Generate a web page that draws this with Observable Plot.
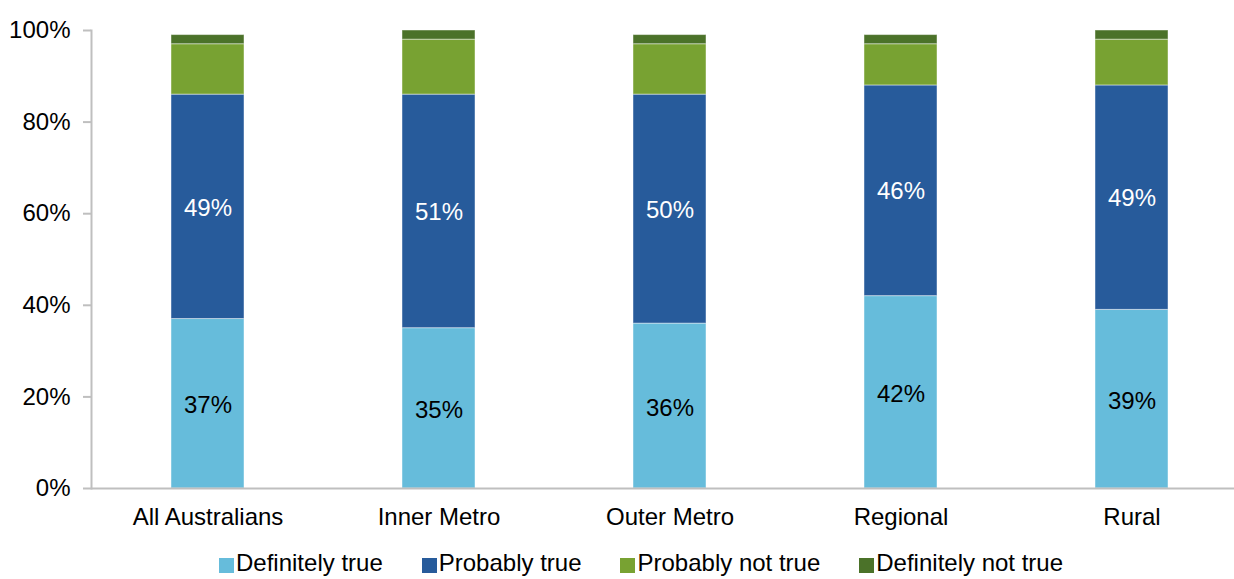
<!DOCTYPE html>
<html>
<head>
<meta charset="utf-8">
<script src="https://cdn.jsdelivr.net/npm/d3@7"></script>
<script src="https://cdn.jsdelivr.net/npm/@observablehq/plot@0.6"></script>
<style>
  html, body { margin: 0; padding: 0; background: #fff; overflow: hidden; }
  body { width: 1234px; height: 579px; font-family: "Liberation Sans", Arial, sans-serif; }
  #legend { display: flex; align-items: flex-end; padding-left: 219px; padding-top: 3px; height: 30px; line-height: 30px; font-size: 24px; color: #000; }
  .item { display: flex; align-items: center; margin-right: 39px; white-space: nowrap; }
  .sw { width: 15px; height: 15px; margin-right: 2px; margin-top: 4px; }
</style>
</head>
<body>
<div id="chart"></div>
<div id="legend"></div>
<script>
const categories = ["All Australians", "Inner Metro", "Outer Metro", "Regional", "Rural"];
const seriesNames = ["Definitely true", "Probably true", "Probably not true", "Definitely not true"];
const seriesColors = ["#66BCDB", "#275B9B", "#78A232", "#4B7229"];
const definitelyTrue = [37, 35, 36, 42, 39];
const probablyTrue = [49, 51, 50, 46, 49];
const probablyNotTrue = [11, 12, 11, 9, 10];
const definitelyNotTrue = [2, 2, 2, 2, 2];
const yTicks = [0, 20, 40, 60, 80, 100];

const seriesValues = [definitelyTrue, probablyTrue, probablyNotTrue, definitelyNotTrue];
const rows = [];
categories.forEach((c, i) => {
  seriesNames.forEach((s, j) => {
    rows.push({category: c, series: s, value: seriesValues[j][i]});
  });
});

const height = 545;
const plot = Plot.plot({
  width: 1234,
  height,
  marginLeft: 91,
  marginRight: 0,
  marginTop: 30,
  marginBottom: height - 488,
  style: {fontFamily: "'Liberation Sans', Arial, sans-serif", fontSize: "24px", color: "#000", background: "#fff"},
  x: {type: "band", domain: categories, range: [91, 1247], paddingInner: 0.684, paddingOuter: 0.342, label: null},
  y: {domain: [0, 100], label: null},
  color: {domain: seriesNames, range: seriesColors},
  marks: [
    Plot.barY(rows, Plot.stackY({x: "category", y: "value", z: "series", fill: "series", order: seriesNames, stroke: "#ffffff", strokeOpacity: 0.45, strokeWidth: 1})),
    Plot.text(rows, Plot.stackY({x: "category", y: "value", z: "series", order: seriesNames,
      text: d => d.series === "Definitely true" ? d.value + "%" : "", fill: "#000", fontSize: 24, dy: 2})),
    Plot.text(rows, Plot.stackY({x: "category", y: "value", z: "series", order: seriesNames,
      text: d => d.series === "Probably true" ? d.value + "%" : "", fill: "#fff", fontSize: 24, dy: 1})),
    Plot.ruleY([0], {stroke: "#BFBFBF", strokeWidth: 2}),
    Plot.frame({anchor: "left", stroke: "#BFBFBF", strokeWidth: 2}),
    Plot.axisY({ticks: yTicks, tickFormat: d => d + "%", tickSize: 8, tickPadding: 13, stroke: "#BFBFBF", strokeWidth: 2, fill: "#000", fontSize: 24, label: null}),
    Plot.axisX({tickSize: 0, tickPadding: 19, fill: "#000", fontSize: 24, label: null})
  ]
});
document.getElementById("chart").appendChild(plot);

const legend = document.getElementById("legend");
seriesNames.forEach((s, i) => {
  const item = document.createElement("div");
  item.className = "item";
  const sw = document.createElement("span");
  sw.className = "sw";
  sw.style.background = seriesColors[i];
  const t = document.createElement("span");
  t.textContent = s;
  item.appendChild(sw);
  item.appendChild(t);
  legend.appendChild(item);
});
</script>
</body>
</html>
